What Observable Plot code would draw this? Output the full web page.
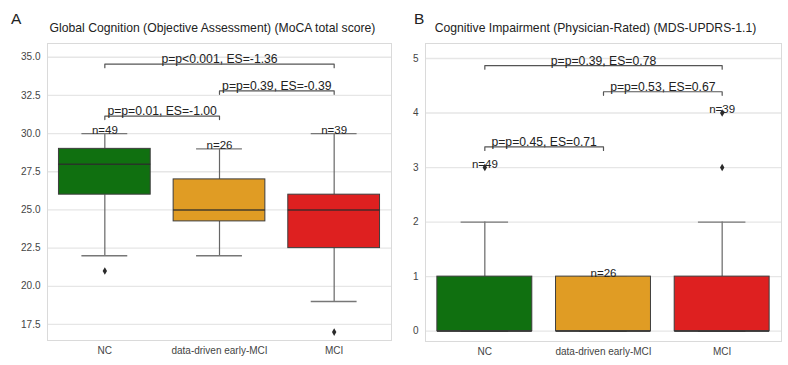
<!DOCTYPE html>
<html><head><meta charset="utf-8">
<script src="https://cdn.jsdelivr.net/npm/d3@7"></script>
<script src="https://cdn.jsdelivr.net/npm/@observablehq/plot@0.6"></script>
<style>
body{margin:0;background:#fff;}
#wrap{position:relative;width:788px;height:365px;font-family:"Liberation Sans",Arial,sans-serif;overflow:hidden;}
.lbl{position:absolute;line-height:1;white-space:nowrap;color:#222;}
</style></head><body>
<div id="wrap">
  <div id="pa" style="position:absolute;left:0;top:0"></div>
  <div id="pb" style="position:absolute;left:395px;top:0"></div>
  <div class="lbl" style="left:11px;top:10.6px;font-size:15.5px">A</div>
  <div class="lbl" style="left:414px;top:10.6px;font-size:15.5px">B</div>
  <div class="lbl" style="left:12.5px;width:400px;text-align:center;top:22px;font-size:12.2px">Global Cognition (Objective Assessment) (MoCA total score)</div>
  <div class="lbl" style="left:395.5px;width:400px;text-align:center;top:22px;font-size:12.2px">Cognitive Impairment (Physician-Rated) (MDS-UPDRS-1.1)</div>
</div>
<script>
// ---- shared ----
const groups = ["NC", "data-driven early-MCI", "MCI"];
const colors = ["#107010", "#e09c24", "#de2020"];
const counts = [49, 26, 39];

// ---- Panel A: MoCA total score ----
const mocaTicks = [17.5, 20, 22.5, 25, 27.5, 30, 32.5, 35];
const mocaQ1 = [26, 24.25, 22.5];
const mocaMedian = [28, 25, 25];
const mocaQ3 = [29, 27, 26];
const mocaLow = [22, 22, 19];
const mocaHigh = [30, 29, 30];
const mocaOutliers = [["NC", 21], ["MCI", 17]];
const mocaCountY = [30, 29, 30];
const mocaBrackets = [
  {from: "NC", to: "data-driven early-MCI", y: 31.15, label: "p=p=0.01, ES=-1.00"},
  {from: "data-driven early-MCI", to: "MCI", y: 32.8, label: "p=p=0.39, ES=-0.39"},
  {from: "NC", to: "MCI", y: 34.55, label: "p=p<0.001, ES=-1.36"}
];

// ---- Panel B: MDS-UPDRS-1.1 ----
const updrsTicks = [0, 1, 2, 3, 4, 5];
const updrsQ1 = [0, 0, 0];
const updrsMedian = [0, 0, 0];
const updrsQ3 = [1, 1, 1];
const updrsLow = [0, 0, 0];
const updrsHigh = [2, 1, 2];
const updrsOutliers = [["NC", 3], ["MCI", 3], ["MCI", 4]];
const updrsCountY = [3, 1, 4];
const updrsBrackets = [
  {from: "NC", to: "data-driven early-MCI", y: 3.38, label: "p=p=0.45, ES=0.71"},
  {from: "data-driven early-MCI", to: "MCI", y: 4.39, label: "p=p=0.53, ES=0.67"},
  {from: "NC", to: "MCI", y: 4.87, label: "p=p=0.39, ES=0.78"}
];

const idx = g => groups.indexOf(g);
const BOX = 0.4, CAP = 0.2;

function panel(o) {
  const boxes = groups.map((g, i) => ({
    i, q1: o.q1[i], med: o.med[i], q3: o.q3[i], lo: o.lo[i], hi: o.hi[i],
    n: counts[i], nY: o.nY[i], color: colors[i]
  }));
  const path = o.brackets.flatMap(b => [
    {k: b.label, x: idx(b.from), y: b.y - o.tickLen},
    {k: b.label, x: idx(b.from), y: b.y},
    {k: b.label, x: idx(b.to), y: b.y},
    {k: b.label, x: idx(b.to), y: b.y - o.tickLen}
  ]);
  return Plot.plot({
    width: o.width, height: 365,
    marginTop: 43, marginBottom: o.marginBottom, marginLeft: o.marginLeft, marginRight: o.marginRight,
    style: {fontFamily: "Liberation Sans, Arial, sans-serif", fontSize: "10px", color: "#444", background: "transparent"},
    x: {type: "linear", domain: [-0.5, 2.5], ticks: [0, 1, 2], tickFormat: i => groups[i], tickSize: 0, tickPadding: 6, label: null},
    y: {domain: o.domain, ticks: o.ticks, tickFormat: o.fmt, tickSize: 0, tickPadding: 7, label: null},
    color: {type: "identity"},
    marks: [
      Plot.ruleY(o.ticks, {stroke: "#e6e6e6", strokeWidth: 1.3}),
      Plot.frame({stroke: "#dadada"}),
      Plot.ruleX(boxes, {x: "i", y1: "lo", y2: "q1", stroke: "#666", strokeWidth: 1.2}),
      Plot.ruleX(boxes, {x: "i", y1: "q3", y2: "hi", stroke: "#666", strokeWidth: 1.2}),
      Plot.ruleY(boxes, {x1: d => d.i - CAP, x2: d => d.i + CAP, y: "lo", stroke: "#777", strokeWidth: 1.4}),
      Plot.ruleY(boxes, {x1: d => d.i - CAP, x2: d => d.i + CAP, y: "hi", stroke: "#777", strokeWidth: 1.4}),
      Plot.rectY(boxes, {x1: d => d.i - BOX, x2: d => d.i + BOX, y1: "q1", y2: "q3", fill: "color", stroke: "#3d3d3d", strokeWidth: 1}),
      Plot.ruleY(boxes, {x1: d => d.i - BOX, x2: d => d.i + BOX, y: "med", stroke: "#2b2b2b", strokeOpacity: 0.85, strokeWidth: 1.5}),
      Plot.dot(o.outliers, {x: d => idx(d[0]), y: d => d[1], symbol: "diamond", r: 2.3, fill: "#2a2a2a", stroke: "none"}),
      Plot.text(boxes, {x: "i", y: "nY", text: d => "n=" + d.n, lineAnchor: "bottom", fontSize: 11.5, fill: "#222"}),
      Plot.line(path, {x: "x", y: "y", z: "k", stroke: "#555", strokeWidth: 1.2}),
      Plot.text(o.brackets, {x: d => (idx(d.from) + idx(d.to)) / 2, y: "y", text: "label", lineAnchor: "bottom", dy: -1, fontSize: 12.2, fill: "#222"})
    ]
  });
}

document.getElementById("pa").append(panel({
  width: 395, marginLeft: 47, marginRight: 4, marginBottom: 25,
  domain: [16.45, 35.9], ticks: mocaTicks, fmt: d3.format(".1f"),
  q1: mocaQ1, med: mocaMedian, q3: mocaQ3, lo: mocaLow, hi: mocaHigh,
  outliers: mocaOutliers, nY: mocaCountY, brackets: mocaBrackets, tickLen: 0.23
}));
document.getElementById("pb").append(panel({
  width: 393, marginLeft: 30, marginRight: 7, marginBottom: 24,
  domain: [-0.19, 5.275], ticks: updrsTicks, fmt: d3.format("d"),
  q1: updrsQ1, med: updrsMedian, q3: updrsQ3, lo: updrsLow, hi: updrsHigh,
  outliers: updrsOutliers, nY: updrsCountY, brackets: updrsBrackets, tickLen: 0.065
}));
</script>
</body></html>
